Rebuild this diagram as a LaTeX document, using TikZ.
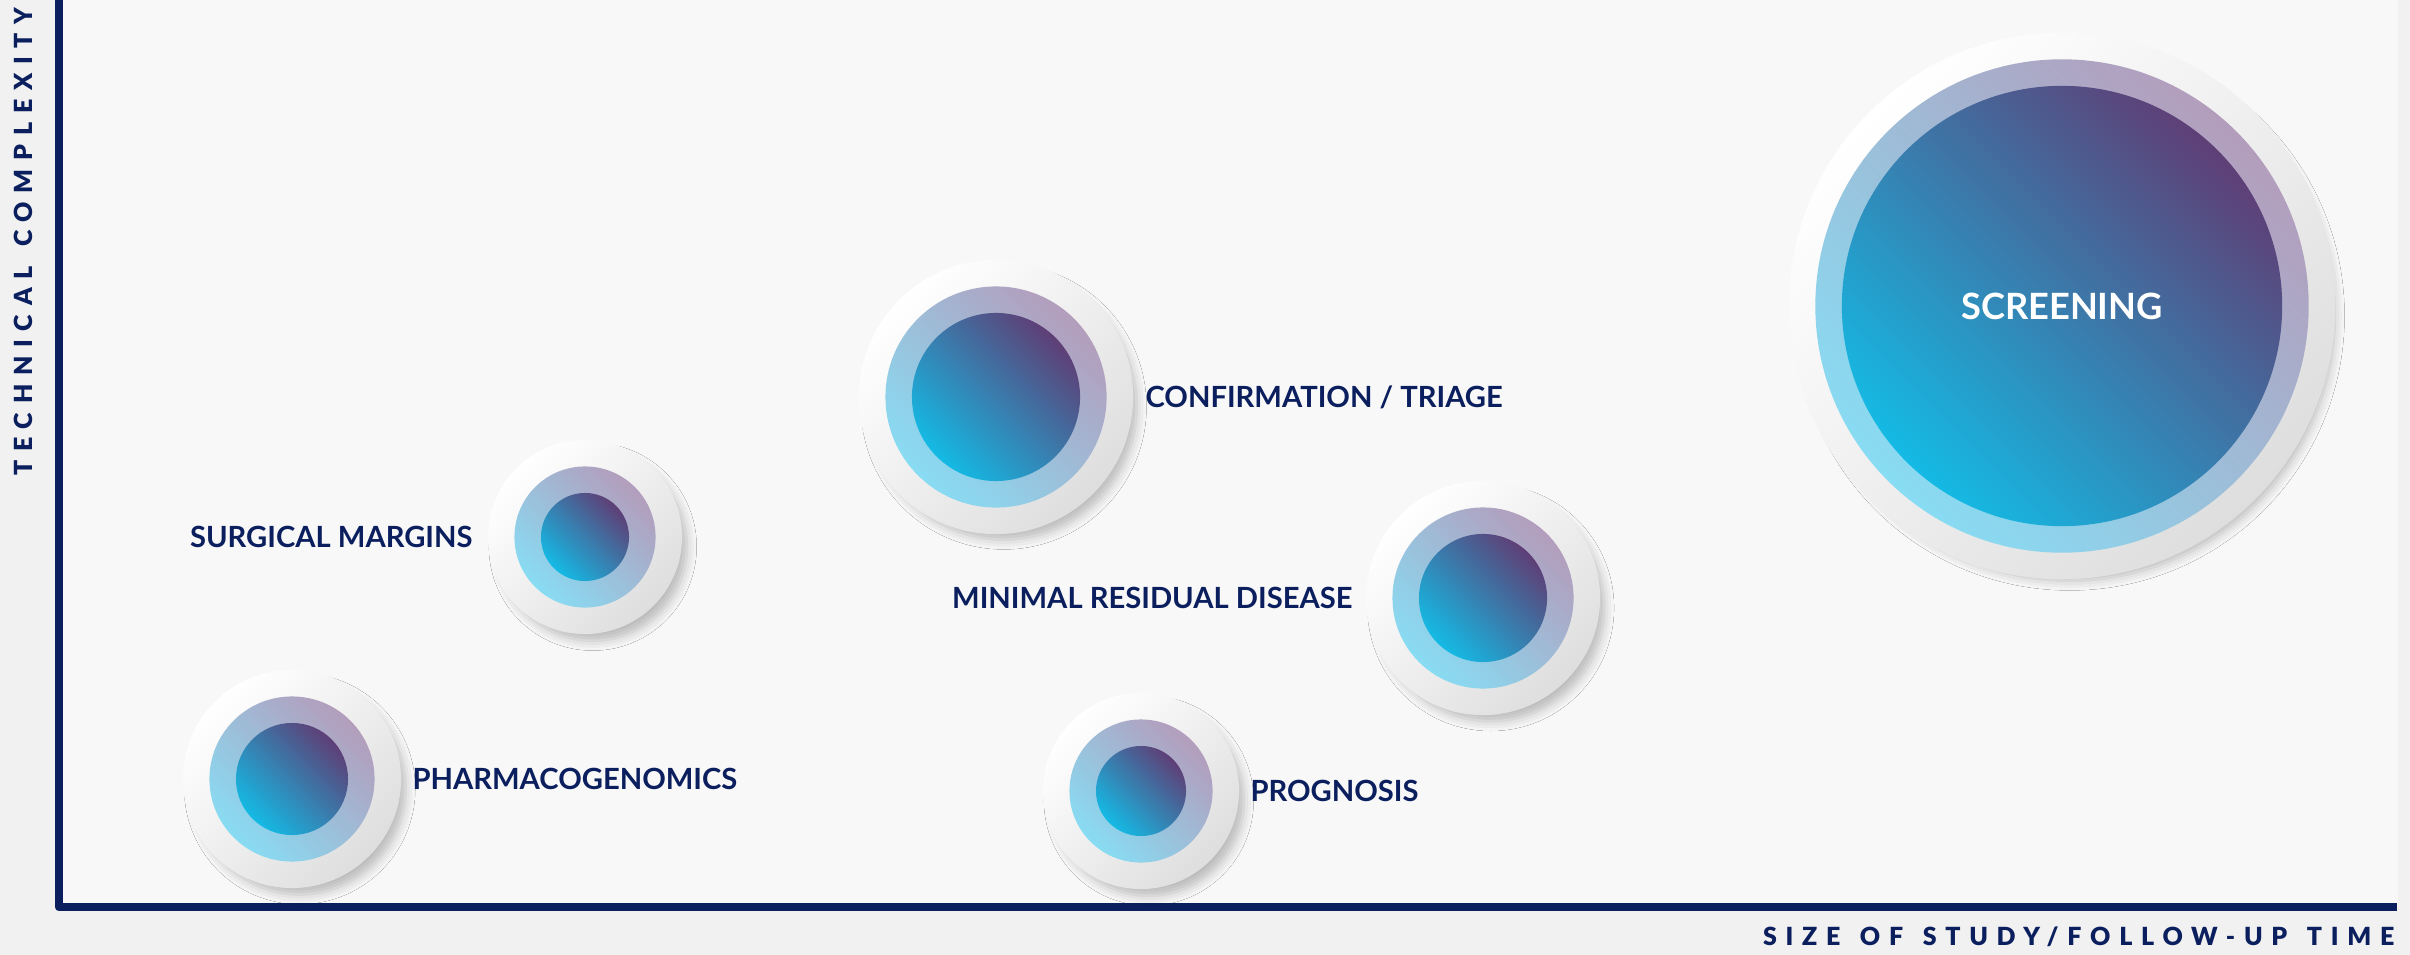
\documentclass[tikz,border=0pt]{standalone}
\usepackage{fontspec}
\setmainfont{Lato}
\newfontfamily\axisfont[LetterSpace=35,WordSpace=1.35]{Lato Black}
\usetikzlibrary{positioning,shadows.blur}
\definecolor{navy}{HTML}{0B1F5E}
\definecolor{pagegray}{HTML}{F1F1F1}
\definecolor{plotgray}{HTML}{F8F8F8}
\definecolor{discgray}{HTML}{DEDEDE}
\definecolor{ringcyan}{HTML}{88DCF3}
\definecolor{ringlilac}{HTML}{B39DBC}
\definecolor{corecyan}{HTML}{14BAE4}
\definecolor{corepurple}{HTML}{5E3F76}
\tikzset{
  disc/.style={circle,inner sep=0pt,top color=white,bottom color=discgray,shading angle=45,
    blur shadow={shadow scale=0.97,shadow xshift=0.08cm,shadow yshift=-0.1cm,shadow blur radius=0.1cm,shadow opacity=25}},
  ring/.style={circle,inner sep=0pt,top color=ringlilac,bottom color=ringcyan,shading angle=-45},
  core/.style={circle,inner sep=0pt,top color=corepurple,bottom color=corecyan,shading angle=-45},
  tag/.style={font=\bfseries\fontsize{8.3}{10}\selectfont,text=navy,inner sep=0pt},
  axislabel/.style={font=\axisfont\fontsize{7.1}{8}\selectfont,text=navy,inner sep=0pt}
}
% name, x, y, core radius (px)
\newcommand\bubble[4]{%
  \node[disc,minimum size={(#4+53)*0.02cm}] (#1) at (#2,#3) {};
  \node[ring,minimum size={(#4+26.5)*0.02cm}] (#1-ring) at (#1.center) {};
  \node[core,minimum size={#4*0.02cm}] (#1-core) at (#1.center) {};
}
\begin{document}
\begin{tikzpicture}[x=0.01cm,y=-0.01cm,line join=round,node distance=0.11cm]
  \useasboundingbox (0,0) rectangle (2410,955);
  \fill[pagegray] (0,0) rectangle (2410,955);
  \fill[plotgray] (59,0) rectangle (2398,907);
  % axes
  \coordinate (ytop) at (59,0);
  \coordinate (origin) at (59,907);
  \coordinate (xend) at (2397,907);
  \draw[navy,line width=0.085cm] (ytop) -- (origin) -- (xend);
  \node[axislabel,rotate=90,anchor=east] (ylab) at (23,7) {TECHNICAL COMPLEXITY};
  \node[axislabel,anchor=east] (xlab) at (2395,937) {SIZE OF STUDY/FOLLOW-UP TIME};
  % bubbles
  \bubble{scr}{2062}{306}{220}
  \bubble{conf}{996}{397}{84}
  \bubble{surg}{585}{537}{44}
  \bubble{mrd}{1483}{598}{64}
  \bubble{prog}{1141}{791}{45}
  \bubble{pharma}{292}{779}{56}
  % labels
  \node[tag,text=white,font=\bfseries\fontsize{10.3}{12}\selectfont] (scr-tag) at (scr.center) {SCREENING};
  \node[tag,right=of conf] (conf-tag) {CONFIRMATION / TRIAGE};
  \node[tag,left=0.14cm of surg] (surg-tag) {SURGICAL MARGINS};
  \node[tag,left=0.12cm of mrd] (mrd-tag) {MINIMAL RESIDUAL DISEASE};
  \node[tag,right=0.1cm of prog] (prog-tag) {PROGNOSIS};
  \node[tag,right=0.1cm of pharma] (pharma-tag) {PHARMACOGENOMICS};
\end{tikzpicture}
\end{document}
